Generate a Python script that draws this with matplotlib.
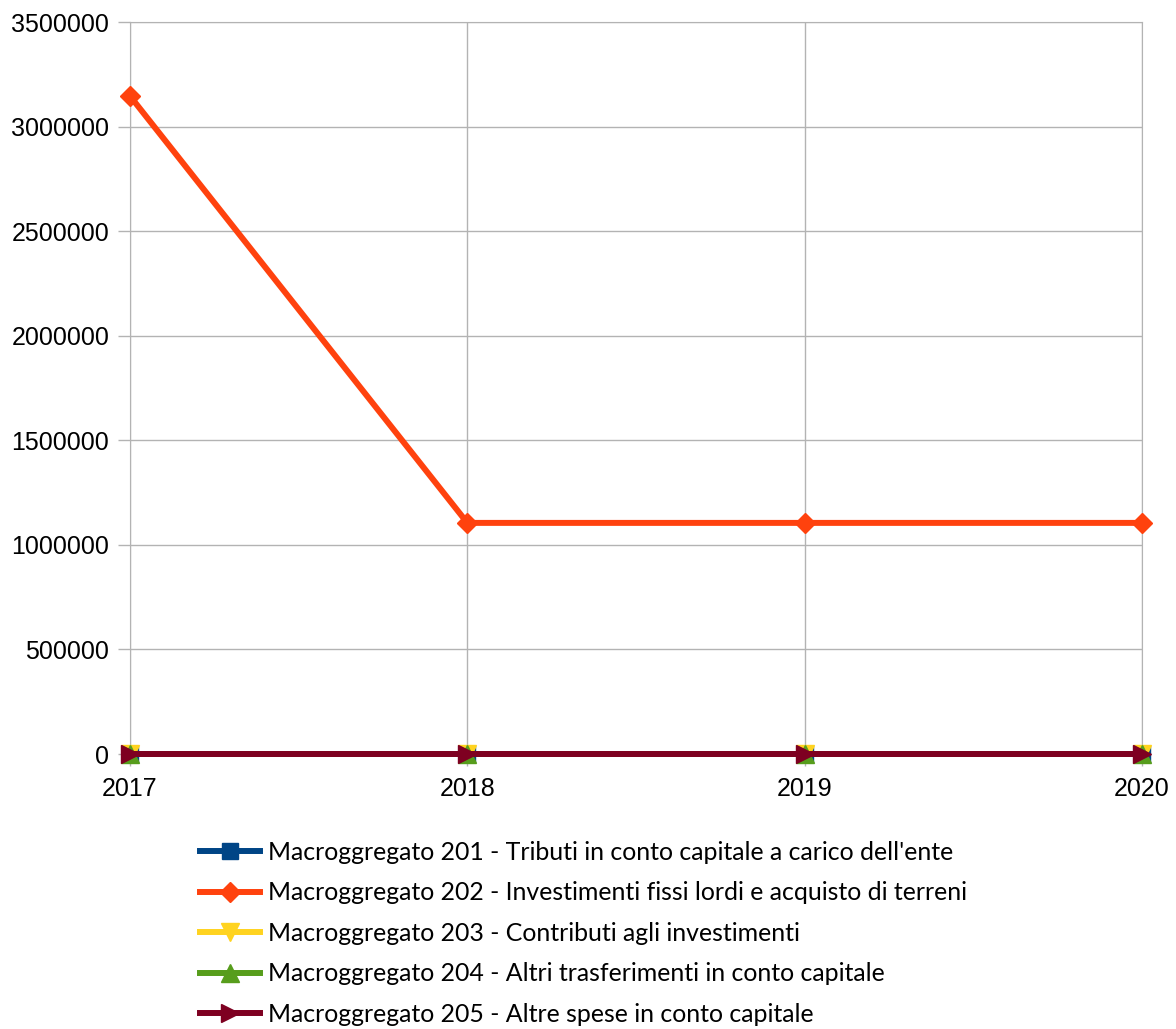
import matplotlib.pyplot as plt
from matplotlib.ticker import MultipleLocator, FuncFormatter

years = ["2017", "2018", "2019", "2020"]
labels = [
    "Macroggregato 201 - Tributi in conto capitale a carico dell'ente",
    "Macroggregato 202 - Investimenti fissi lordi e acquisto di terreni",
    "Macroggregato 203 - Contributi agli investimenti",
    "Macroggregato 204 - Altri trasferimenti in conto capitale",
    "Macroggregato 205 - Altre spese in conto capitale",
]
m201 = [0, 0, 0, 0]
m202 = [3146000, 1105000, 1105000, 1105000]
m203 = [0, 0, 0, 0]
m204 = [0, 0, 0, 0]
m205 = [0, 0, 0, 0]

series = [m201, m202, m203, m204, m205]
colors = ["#004586", "#ff420e", "#ffd320", "#579d1c", "#7e0021"]
markers = ["s", "D", "v", "^", ">"]
msizes = [12, 10.5, 13, 13, 13]

fig = plt.figure(figsize=(11.76, 10.29), dpi=100)
ax = fig.add_axes([130 / 1176, 1 - 754 / 1029, 1012 / 1176, 732 / 1029])

x = range(len(years))
for vals, c, m, ms, lab in zip(series, colors, markers, msizes, labels):
    ax.plot(x, vals, color=c, lw=4.3, marker=m, ms=ms, label=lab,
            clip_on=False, zorder=3)

ax.set_xlim(0, 3)
ax.set_ylim(0, 3500000)
ax.set_xticks(list(x))
ax.set_xticklabels(years)
ax.yaxis.set_major_locator(MultipleLocator(500000))
ax.yaxis.set_major_formatter(FuncFormatter(lambda v, p: f"{int(v)}"))
ax.grid(True, color="#b3b3b3", lw=1)
for s in ax.spines.values():
    s.set_color("#b3b3b3")
ax.tick_params(axis="both", colors="#b3b3b3", labelcolor="black",
               labelsize=18, length=8.5, width=1)
ax.tick_params(axis="y", pad=6.5)
ax.tick_params(axis="x", pad=8)
for t in ax.get_xticklabels() + ax.get_yticklabels():
    t.set_family("Liberation Sans")

fig.legend(loc="upper left", bbox_to_anchor=(200 / 1176, 1 - 841 / 1029),
           frameon=False, prop={"family": "Lato", "size": 17.9},
           handlelength=2.4, handletextpad=0.32, labelspacing=0.7,
           borderpad=0, borderaxespad=0)

fig.savefig("out.png", dpi=100)
